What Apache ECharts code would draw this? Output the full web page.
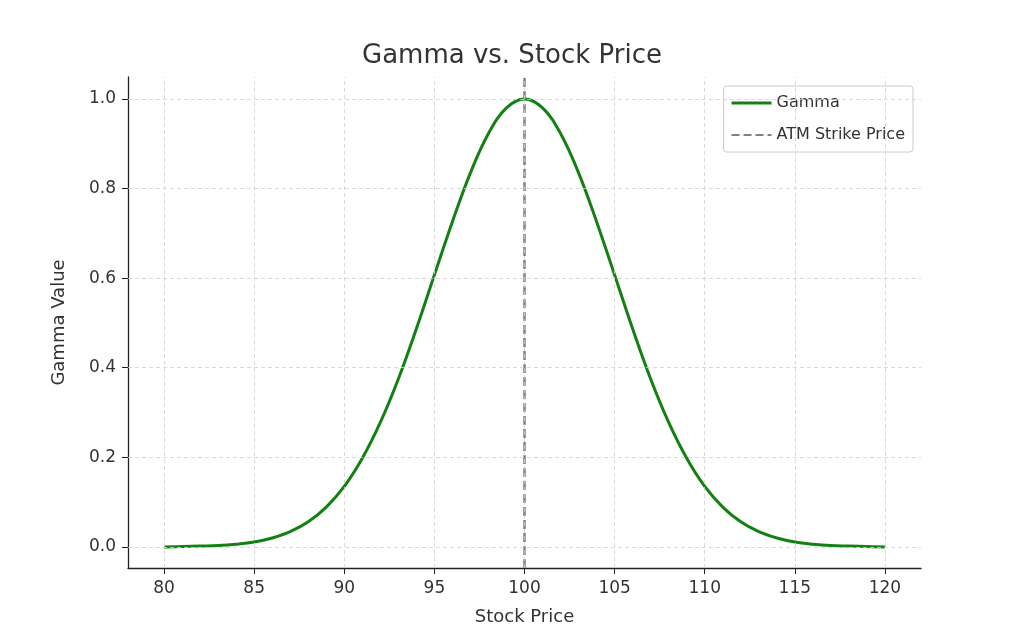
<!DOCTYPE html>
<html><head><meta charset="utf-8">
<script src="https://cdn.jsdelivr.net/npm/echarts@6/dist/echarts.min.js"></script>
<style>html,body{margin:0;background:#fff}#c{width:1024px;height:640px}</style>
</head><body><div id="c"></div>
<script>
const prices = [80,81,82,83,84,85,86,87,88,89,90,91,92,93,94,95,96,97,98,99,100,101,102,103,104,105,106,107,108,109,110,111,112,113,114,115,116,117,118,119,120];
const gamma = [0.000,0.001,0.002,0.003,0.006,0.011,0.020,0.034,0.056,0.089,0.135,0.198,0.278,0.375,0.487,0.607,0.726,0.835,0.923,0.980,1.000,0.980,0.923,0.835,0.726,0.607,0.487,0.375,0.278,0.198,0.135,0.089,0.056,0.034,0.020,0.011,0.006,0.003,0.002,0.001,0.000];
const strike = 100;
const xTicks = [80,85,90,95,100,105,110,115,120];
const yTicks = [0,0.2,0.4,0.6,0.8,1.0];
const font = 'DejaVu Sans';
const gridStyle = {color:'#d0d0d0', type:[4,3], width:0.8};
const chart = echarts.init(document.getElementById('c'));
chart.setOption({
  animation:false,
  textStyle:{fontFamily:font},
  title:{text:'Gamma vs. Stock Price', left:'center', top:38, textStyle:{fontFamily:font, fontSize:26, fontWeight:'normal', color:'#333'}},
  grid:{left:128, right:103, top:77, bottom:72},
  legend:{right:111, top:86, orient:'vertical', itemWidth:40, itemHeight:3, itemGap:16, padding:[9,8,9,8],
    borderColor:'#ccc', borderWidth:1, borderRadius:3, textStyle:{fontSize:16, color:'#333'},
    data:[{name:'Gamma', icon:'rect'},{name:'ATM Strike Price', icon:'path://M0,0h8v2h-8z M12,0h8v2h-8z M24,0h8v2h-8z M36,0h4v2h-4z'}]},
  xAxis:{type:'value', min:78, max:122, name:'Stock Price', nameLocation:'middle', nameGap:40,
    nameTextStyle:{fontSize:18, color:'#333'},
    axisLine:{onZero:false, lineStyle:{color:'#222', width:1.3}}, axisTick:{customValues:xTicks, length:6, lineStyle:{color:'#222'}},
    axisLabel:{customValues:xTicks, fontSize:17, color:'#333', margin:12}, splitLine:{show:false}},
  yAxis:{type:'value', min:-0.047, max:1.049, name:'Gamma Value', nameLocation:'middle', nameGap:60,
    nameTextStyle:{fontSize:18, color:'#333'},
    axisLine:{show:true, onZero:false, lineStyle:{color:'#222', width:1.3}}, axisTick:{show:true, customValues:yTicks, length:6, lineStyle:{color:'#222'}},
    axisLabel:{customValues:yTicks, fontSize:17, color:'#333', margin:12, formatter:v=>v.toFixed(1)}, splitLine:{show:false}},
  series:[
    {type:'line', name:'grid', data:[], silent:true, legendHoverLink:false,
      markLine:{silent:true, symbol:'none', label:{show:false}, lineStyle:gridStyle,
        data:[...xTicks.map(v=>({xAxis:v})), ...yTicks.map(v=>({yAxis:v}))]}},
    {type:'line', name:'Gamma', data:prices.map((p,i)=>[p,gamma[i]]), smooth:0.4, showSymbol:false,
      lineStyle:{color:'#138013', width:3}, itemStyle:{color:'#138013'}, z:3},
    {type:'line', name:'ATM Strike Price', data:[[strike,-0.047],[strike,1.049]], showSymbol:false,
      lineStyle:{color:'#808080', width:2.5, type:[9,4]}, itemStyle:{color:'#808080'}, z:4}
  ]
});
</script></body></html>
